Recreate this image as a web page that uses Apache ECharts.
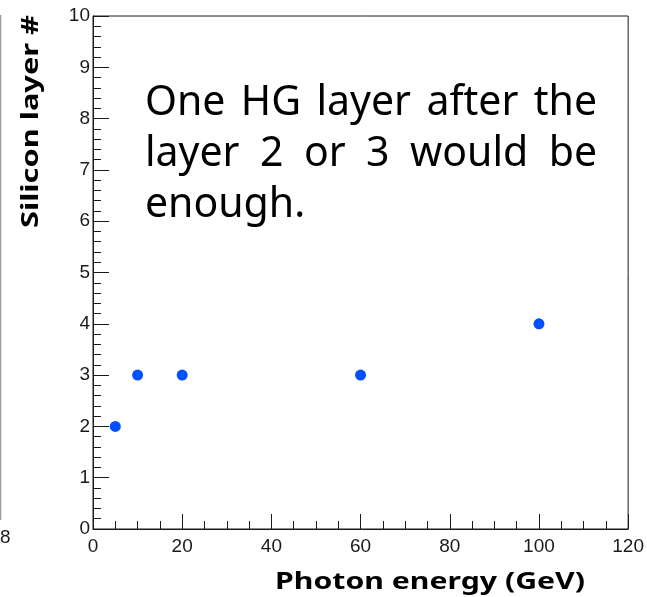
<!DOCTYPE html>
<html>
<head>
<meta charset="utf-8">
<script src="https://cdn.jsdelivr.net/npm/echarts@6/dist/echarts.min.js"></script>
<style>
  html, body { margin: 0; padding: 0; background: #fff; }
  #chart { width: 647px; height: 597px; }
</style>
</head>
<body>
<div id="chart"></div>
<script>
// Photon energy (GeV) and the silicon layer chosen for each energy
const photonEnergy = [5, 10, 20, 60, 100];
const siliconLayer = [2, 3, 3, 3, 4];

// Axis ranges and tick spacing
const xRange = [0, 120];
const xStep = 20;
const yRange = [0, 10];
const yStep = 1;

// Note text, one entry per line
const noteLines = ['One HG layer after the', 'layer 2 or 3 would be', 'enough.'];

const textFont = '"Noto Sans", "Open Sans", sans-serif';
const labelFont = '"Liberation Sans", Arial, sans-serif';
const ink = '#1a1a1a';

const chart = echarts.init(document.getElementById('chart'), null, { renderer: 'canvas' });

const measureCtx = document.createElement('canvas').getContext('2d');
function textWidth(text, font) {
  measureCtx.font = font;
  return measureCtx.measureText(text).width;
}

// a text stretched horizontally to span a given length
function fittedText(text, font, length, props) {
  const s = length / textWidth(text, font);
  return Object.assign({ type: 'text', silent: true, scaleX: s,
    style: Object.assign({ text: text, font: font, fill: '#000', verticalAlign: 'middle' }, props.style) },
    props.pos);
}

// words of a note line, spread over the full width when justified
const noteFont = '41px ' + textFont;
function noteLine(text, left, width, y, justify) {
  const words = text.split(' ');
  const widths = words.map(w => textWidth(w, noteFont));
  const total = widths.reduce((a, b) => a + b, 0);
  const gap = justify && words.length > 1 ? (width - total) / (words.length - 1) : textWidth(' ', noteFont);
  const out = [];
  let x = left;
  words.forEach((w, i) => {
    out.push({ type: 'text', silent: true, x: x, y: y,
      style: { text: w, font: noteFont, fill: '#000', verticalAlign: 'middle' } });
    x += widths[i] + gap;
  });
  return out;
}

const noteLeft = 145, noteWidth = 452, noteMid = 103, noteLead = 51;
let noteGraphics = [];
noteLines.forEach((line, i) => {
  noteGraphics = noteGraphics.concat(
    noteLine(line, noteLeft, noteWidth, noteMid + i * noteLead, i < noteLines.length - 1)
  );
});

const titleFont = 'bold 23px ' + textFont;

const option = {
  animation: false,
  backgroundColor: '#fff',
  grid: {
    left: 93, right: 15, top: 16, bottom: 68,
    show: true, borderColor: ink, borderWidth: 1, backgroundColor: '#fff'
  },
  xAxis: {
    type: 'value', min: xRange[0], max: xRange[1], interval: xStep,
    axisLine: { show: true, onZero: false, lineStyle: { color: ink, width: 1 } },
    axisTick: { show: true, inside: true, length: 15, lineStyle: { color: ink } },
    minorTick: { show: true, splitNumber: 4, length: 8, lineStyle: { color: ink } },
    splitLine: { show: false },
    axisLabel: { color: ink, fontSize: 19, fontFamily: labelFont, margin: 8 }
  },
  yAxis: {
    type: 'value', min: yRange[0], max: yRange[1], interval: yStep,
    axisLine: { show: true, onZero: false, lineStyle: { color: ink, width: 1 } },
    axisTick: { show: true, inside: true, length: 16, lineStyle: { color: ink } },
    minorTick: { show: true, splitNumber: 5, length: 8, lineStyle: { color: ink } },
    splitLine: { show: false },
    axisLabel: { color: ink, fontSize: 19, fontFamily: labelFont, margin: 3 }
  },
  series: [{
    type: 'scatter',
    data: photonEnergy.map((e, i) => [e, siliconLayer[i]]),
    symbol: 'circle',
    symbolSize: 11,
    itemStyle: { color: '#0050ff', opacity: 1 }
  }],
  graphic: [
    // edge of the neighbouring panel
    { type: 'line', silent: true, shape: { x1: 0.5, y1: 15, x2: 0.5, y2: 520 },
      style: { stroke: '#999', lineWidth: 1.5 } },
    { type: 'text', silent: true, left: 0, top: 528,
      style: { text: '8', font: '19px ' + labelFont, fill: ink } },
    // axis titles
    fittedText('Silicon layer #', titleFont, 213,
      { pos: { x: 31, y: 15, rotation: Math.PI / 2 }, style: { align: 'right' } }),
    fittedText('Photon energy (GeV)', titleFont, 310,
      { pos: { x: 585, y: 582 }, style: { align: 'right' } })
  ].concat(noteGraphics)
};

chart.setOption(option);
</script>
</body>
</html>
